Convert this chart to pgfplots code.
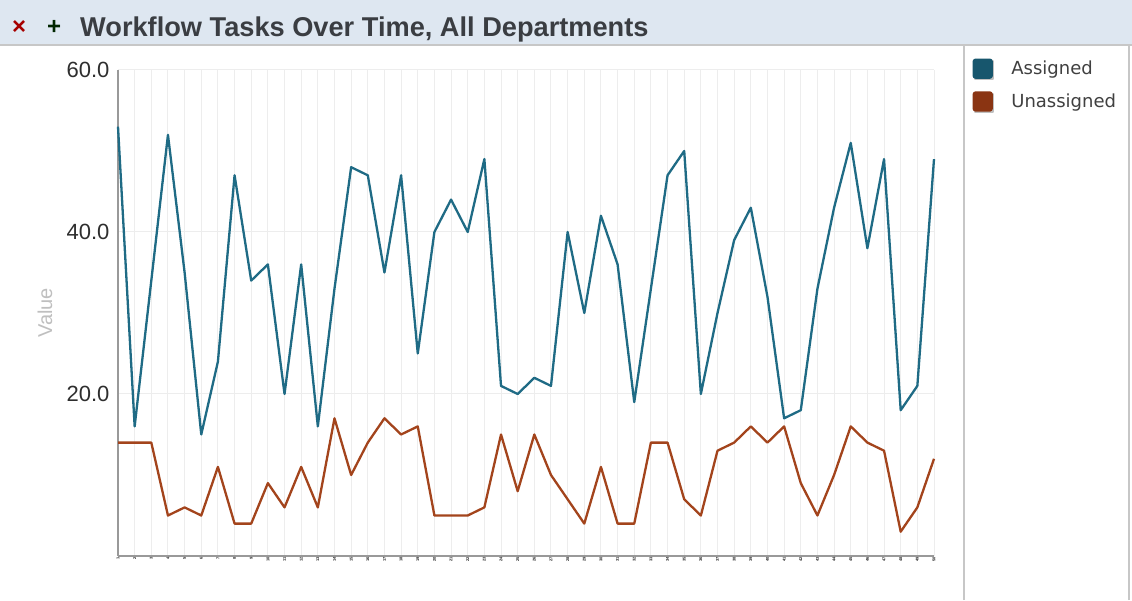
\documentclass[border=0pt]{standalone}
\usepackage{pgfplots}
\pgfplotsset{compat=1.18}
\usepackage{pgfplotstable}
\usepackage{fontspec}
\setmainfont{Liberation Sans}
\newfontfamily\legfont{DejaVu Sans}
\definecolor{assigned}{HTML}{1F6B85}
\definecolor{unassigned}{HTML}{A3441C}
\definecolor{swA}{HTML}{17566D}
\definecolor{swU}{HTML}{8A3412}
\definecolor{titlebg}{HTML}{DEE7F1}
\definecolor{titletxt}{HTML}{3A3D42}

\pgfplotstableread{
x a u
0 53 14
1 16 14
2 34 14
3 52 5
4 35 6
5 15 5
6 24 11
7 47 4
8 34 4
9 36 9
10 20 6
11 36 11
12 16 6
13 33 17
14 48 10
15 47 14
16 35 17
17 47 15
18 25 16
19 40 5
20 44 5
21 40 5
22 49 6
23 21 15
24 20 8
25 22 15
26 21 10
27 40 7
28 30 4
29 42 11
30 36 4
31 19 4
32 33 14
33 47 14
34 50 7
35 20 5
36 30 13
37 39 14
38 43 16
39 32 14
40 17 16
41 18 9
42 33 5
43 43 10
44 51 16
45 38 14
46 49 13
47 18 3
48 21 6
49 49 12
}\data

\begin{document}
\begin{tikzpicture}[x=1pt,y=1pt]
\useasboundingbox (0,0) rectangle (1132,600);
\fill[white] (0,0) rectangle (1132,600);
\fill[titlebg] (0,555) rectangle (1132,600);
\draw[black!22, line width=2pt] (0,555) -- (1132,555);
\draw[black!22, line width=1.5pt] (964,0) -- (964,554);
\draw[black!22, line width=1.5pt] (1129,0) -- (1129,554);
\node[anchor=west, inner sep=0, text=red!65!black, font=\bfseries\fontsize{24}{24}\selectfont] at (12,572) {×};
\node[anchor=west, inner sep=0, text=black!85!green, font=\bfseries\fontsize{24}{24}\selectfont] at (47,573) {+};
\node[anchor=west, inner sep=0, text=titletxt, font=\bfseries\fontsize{27.2}{27.2}\selectfont] at (80,571) {Workflow Tasks Over Time, All Departments};

\begin{axis}[
  at={(118pt,44pt)}, anchor=south west,
  scale only axis, width=816pt, height=486pt,
  xmin=0, xmax=49, ymin=0, ymax=60,
  axis x line*=bottom, axis y line*=left,
  axis line style={black!40, line width=2pt, -},
  xtick={0,...,49},
  xticklabels={1,2,3,4,5,6,7,8,9,10,11,12,13,14,15,16,17,18,19,20,21,22,23,24,25,26,27,28,29,30,31,32,33,34,35,36,37,38,39,40,41,42,43,44,45,46,47,48,49,50},
  xticklabel style={font=\bfseries\fontsize{4}{4}\selectfont, rotate=90, anchor=east, text=black!85, inner sep=1pt},
  ytick={20,40,60},
  yticklabel style={font=\fontsize{22}{22}\selectfont, text=black!82, xshift=-5pt, /pgf/number format/.cd, fixed, fixed zerofill, precision=1, assume math mode=true},
  major tick length=0pt,
  xmajorgrids, ymajorgrids,
  grid style={black!7, line width=1pt},
  ylabel={Value},
  ylabel style={at={(axis description cs:-0.0895,0.5)}, anchor=center, text=black!25, font=\fontsize{20}{20}\selectfont},
  legend style={at={(1.047,1.024)}, anchor=north west, draw=none, fill=none, inner sep=0pt,
    font=\legfont\fontsize{18}{18}\selectfont, text=black!75, row sep=11pt,
    nodes={inner sep=2pt}},
  legend cell align=left,
  clip=false,
]
\addplot[assigned, line width=2.3pt, line join=round,
  legend image code/.code={\fill[black!25] (1.5pt,-10.5pt) rectangle (19.5pt,7.5pt); \fill[swA, rounded corners=2pt] (0pt,-9pt) rectangle (18pt,9pt);}]
  table[x=x, y=a] {\data};
\addlegendentry{\hspace{15pt}Assigned}
\addplot[unassigned, line width=2.3pt, line join=round,
  legend image code/.code={\fill[black!25] (1.5pt,-10.5pt) rectangle (19.5pt,7.5pt); \fill[swU, rounded corners=2pt] (0pt,-9pt) rectangle (18pt,9pt);}]
  table[x=x, y=u] {\data};
\addlegendentry{\hspace{15pt}Unassigned}
\end{axis}
\end{tikzpicture}
\end{document}
